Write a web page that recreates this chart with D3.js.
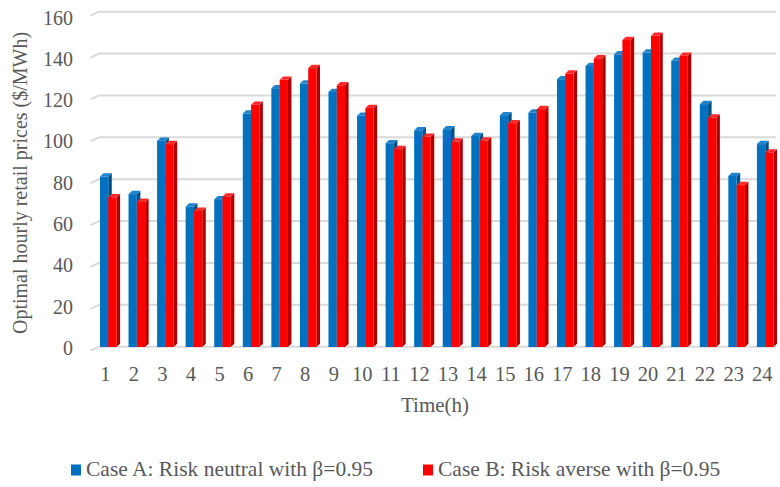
<!DOCTYPE html>
<html>
<head>
<meta charset="utf-8">
<script src="https://cdn.jsdelivr.net/npm/d3@7"></script>
<style>
  html, body { margin: 0; padding: 0; background: #fff; }
  svg { display: block; }
</style>
</head>
<body>
<svg id="chart" width="780" height="487"></svg>
<script>
// Hourly retail prices for the two risk cases
const hours = d3.range(1, 25);
const caseA = [81.4, 73.0, 98.5, 67.1, 70.6, 111.5, 123.6, 125.8, 121.8, 110.4, 97.3, 103.5,
               104.0, 100.8, 110.7, 112.0, 127.9, 134.2, 139.8, 140.6, 136.7, 116.0, 81.7, 96.9];
const caseB = [71.5, 69.3, 96.9, 65.0, 71.9, 115.7, 127.6, 133.2, 125.0, 114.1, 94.5, 100.4,
               98.1, 98.6, 106.9, 113.6, 130.6, 137.9, 146.6, 148.6, 139.1, 109.6, 77.3, 92.9];
const yTicks = [0, 20, 40, 60, 80, 100, 120, 140, 160];
const seriesNames = ["Case A: Risk neutral with \u03b2=0.95", "Case B: Risk averse with \u03b2=0.95"];

const series = [
  { name: seriesNames[0], values: caseA, front: "#0070C0", side: "#004E86", top: "#1F82CC" },
  { name: seriesNames[1], values: caseB, front: "#FF0000", side: "#B00000", top: "#FF2A2A" }
];

const FONT = "'Liberation Serif', 'Times New Roman', serif";
const textColor = "#595959";
const svg = d3.select("#chart");

// 3D depth offset of the column tops
const dx = 3.5, dy = 3.3;

const x = d3.scaleBand().domain(hours).range([90.5, 776]).paddingInner(0).paddingOuter(0);
const y = d3.scaleLinear().domain([0, 160]).range([347, 12]);
// Value labels sit on the front edge of the side wall, slightly compressed in perspective
const yLabel = d3.scaleLinear().domain([0, 160]).range([347.5, 17]);

// Back-wall gridlines with the short slanted side-wall segment on the left
const grid = svg.append("g");
yTicks.forEach(t => {
  const yy = y(t) - 0.3;
  grid.append("line")
    .attr("x1", 99).attr("x2", 776).attr("y1", yy).attr("y2", yy)
    .attr("stroke", "#D9D9D9").attr("stroke-width", 2);
  grid.append("line")
    .attr("x1", 90.5).attr("y1", yy + 4).attr("x2", 99).attr("y2", yy)
    .attr("stroke", "#D9D9D9").attr("stroke-width", 2);
});

// Y axis tick labels
const yAxis = d3.axisLeft(yLabel).tickValues(yTicks).tickSize(0).tickPadding(0);
svg.append("g")
  .attr("transform", "translate(73,0)")
  .call(yAxis)
  .call(g => g.select(".domain").remove())
  .call(g => g.selectAll("text")
    .attr("fill", textColor)
    .attr("font-size", 20)
    .style("font-family", FONT)
    .attr("dy", null)
    .attr("y", 7));

// X axis tick labels
const xAxis = d3.axisBottom(x).tickSize(0).tickPadding(0);
svg.append("g")
  .attr("transform", "translate(0.5,0)")
  .call(xAxis)
  .call(g => g.select(".domain").remove())
  .call(g => g.selectAll("text")
    .attr("fill", textColor)
    .attr("font-size", 20.5)
    .style("font-family", FONT)
    .attr("dy", null)
    .attr("y", 381));

// 3D columns: side face, top cap and front face
const barW = 8.3;
const offsets = [-4.8, -4.8 + barW];
const bars = svg.append("g");
hours.forEach((h, i) => {
  const cx = x(h) + x.bandwidth() / 2;
  series.forEach((s, k) => {
    const v = s.values[i];
    const x0 = cx + offsets[k];
    const x1 = x0 + barW;
    const yt = y(v), yb = y(0);
    const g = bars.append("g");
    g.append("path")
      .attr("d", `M${x1},${yb} L${x1},${yt} L${x1 + dx},${yt - dy} L${x1 + dx},${yb - dy} Z`)
      .attr("fill", s.side);
    g.append("path")
      .attr("d", `M${x0},${yt} L${x1},${yt} L${x1 + dx},${yt - dy} L${x0 + dx},${yt - dy} Z`)
      .attr("fill", s.top);
    g.append("rect")
      .attr("x", x0).attr("y", yt)
      .attr("width", barW).attr("height", yb - yt)
      .attr("fill", s.front);
  });
});

// Axis titles
svg.append("text")
  .attr("transform", "translate(27,183) rotate(-90)")
  .attr("text-anchor", "middle")
  .attr("fill", textColor)
  .attr("font-size", 20)
  .style("font-family", FONT)
  .text("Optimal hourly retail prices ($/MWh)");

svg.append("text")
  .attr("x", 435).attr("y", 412)
  .attr("text-anchor", "middle")
  .attr("fill", textColor)
  .attr("font-size", 21)
  .style("font-family", FONT)
  .text("Time(h)");

// Legend
const legendX = [71, 423];
series.forEach((s, k) => {
  const g = svg.append("g").attr("transform", `translate(${legendX[k]},0)`);
  g.append("rect").attr("x", 0).attr("y", 464.5).attr("width", 10).attr("height", 11)
    .attr("fill", s.front);
  g.append("text").attr("x", 15).attr("y", 476)
    .attr("fill", textColor).attr("font-size", 21.5)
    .style("font-family", FONT)
    .text(s.name);
});
</script>
</body>
</html>
